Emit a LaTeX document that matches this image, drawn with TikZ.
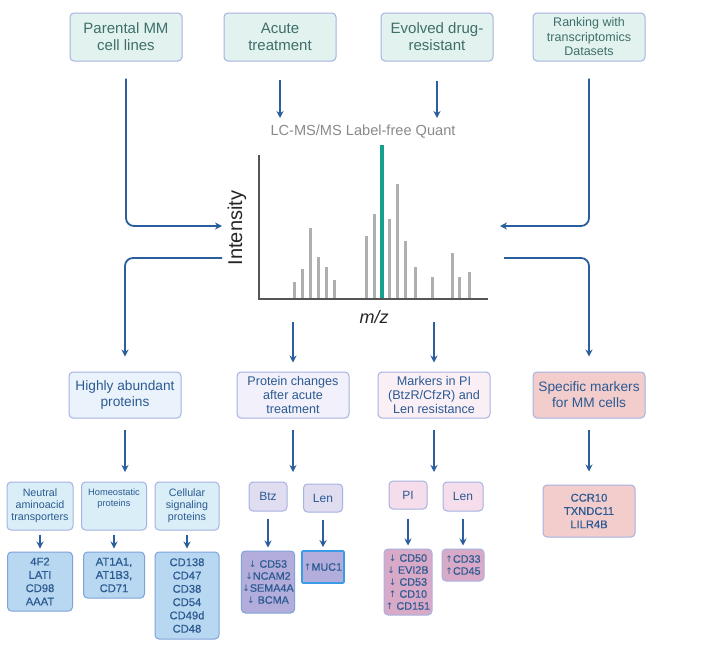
\documentclass[tikz,border=0pt]{standalone}
\usepackage{fontspec}
\setmainfont{Liberation Sans}
\newfontfamily\symf{DejaVu Sans}
\newfontfamily\medf[FakeBold=0.3]{Liberation Sans}
\usetikzlibrary{arrows.meta}
\definecolor{arrc}{HTML}{2A5E9C}
\definecolor{bordc}{HTML}{A5B2E2}
\definecolor{topfill}{HTML}{E2F2EE}
\definecolor{toptext}{HTML}{3F6E6A}
\definecolor{bluetext}{HTML}{2B5A92}
\definecolor{habfill}{HTML}{EAF3FB}
\definecolor{pcfill}{HTML}{F2F0FA}
\definecolor{mkfill}{HTML}{FBEFF6}
\definecolor{specfill}{HTML}{F3CCCC}
\definecolor{subfill}{HTML}{DAEEF7}
\definecolor{listfill}{HTML}{B8D7F0}
\definecolor{listbord}{HTML}{7FA3DA}
\definecolor{lavfill}{HTML}{E0DDF1}
\definecolor{lavlist}{HTML}{B3ADDB}
\definecolor{pinkfill}{HTML}{F6DDEC}
\definecolor{pinklist}{HTML}{D8AAC8}
\definecolor{brightbord}{HTML}{3C9BE6}
\definecolor{barc}{HTML}{AFAFAF}
\definecolor{tealc}{HTML}{14A08C}
\definecolor{axisc}{HTML}{555555}
\definecolor{titlec}{HTML}{8A8A8A}
\tikzset{
  box/.style={draw=bordc, line width=1pt, rounded corners=4pt, align=center, inner sep=1pt, text=bluetext},
  topbox/.style={box, fill=topfill, text=toptext, minimum width=112pt, minimum height=48pt},
  midbox/.style={box, minimum width=112pt, minimum height=46pt},
  subbox/.style={box, fill=subfill, minimum height=48pt, font=\fontsize{10.7}{12}\selectfont},
  listbox/.style={box, fill=listfill, draw=listbord, font=\medf\fontsize{11.2}{13.3}\selectfont},
  tagbox/.style={box, font=\fontsize{12}{14}\selectfont},
  mlist/.style={box, font=\medf\fontsize{10.8}{12}\selectfont},
  arr/.style={draw=arrc, line width=1.8pt, -{Stealth[length=7pt,width=7pt]}},
  bar/.style={draw=barc, line width=3pt},
}
\newcommand{\dn}{{\symf\small↓}}
\newcommand{\upa}{{\symf\small↑}}
\begin{document}
\begin{tikzpicture}[x=1pt,y=-1pt]
\useasboundingbox[fill=white] (0,0) rectangle (708,645);

% top boxes
\node[topbox, font=\fontsize{15}{17}\selectfont] (par) at (126,37) {Parental MM\\cell lines};
\node[topbox, font=\fontsize{15}{17}\selectfont] (acu) at (280,37) {Acute\\treatment};
\node[topbox, font=\fontsize{15}{17}\selectfont] (evo) at (437,37) {Evolved drug-\\resistant};
\node[topbox, font=\fontsize{12.5}{14.5}\selectfont] (rank) at (589,37) {Ranking with\\transcriptomics\\Datasets};

% chart
\node[text=titlec, font=\fontsize{14.6}{16}\selectfont] (title) at (363,132) {LC-MS/MS Label-free Quant};
\foreach \x/\t in {294/282,302/269,310/228,318/257,326/267,334/280,366/236,374/214,389/219,397/184,405/241,415/267,432/277,452/253,459/277,469/272}{
  \draw[bar] (\x,299) -- (\x,\t);
}
\draw[tealc, line width=3.5pt] (382,299) -- (382,145);
\draw[axisc, line width=1.2pt] (259,155) -- (259,299) -- (488,299);
\node[rotate=90, text=black!85, font=\fontsize{20}{22}\selectfont] (inty) at (237,228) {Intensity};
\node[text=black!85, font=\fontsize{18}{20}\selectfont\itshape] (mz) at (374,317) {m/z};

\coordinate (inL) at (222,226);
\coordinate (outL) at (222,258);
\coordinate (inR) at (500,226);
\coordinate (outR) at (504,258);
\coordinate (qA) at (280,118);
\coordinate (qE) at (437,118);
\coordinate (chM1) at (293,322);
\coordinate (chM2) at (434,322);

% middle boxes
\node[midbox, fill=habfill, font=\fontsize{13.7}{16.5}\selectfont] (hab) at (125,395) {Highly abundant\\proteins};
\node[midbox, fill=pcfill, font=\fontsize{12.6}{14}\selectfont] (pc) at (293,395) {Protein changes\\after acute\\treatment};
\node[midbox, fill=mkfill, font=\fontsize{12.6}{14}\selectfont] (mk) at (434,395) {Markers in PI\\(BtzR/CfzR) and\\Len resistance};
\node[midbox, fill=specfill, font=\fontsize{13.7}{16}\selectfont] (spec) at (589,395) {Specific markers\\for MM cells};

% connectors top
\draw[arr, rounded corners=8pt, shorten <=17pt] (par.south) |- (inL);
\draw[arr, rounded corners=8pt, shorten <=17pt] (rank.south) |- (inR);
\draw[arr, shorten <=18pt] (acu.south) -- (qA);
\draw[arr, shorten <=19pt] (evo.south) -- (qE);
\draw[arr, rounded corners=8pt, shorten >=15pt] (outL) -| (hab.north);
\draw[arr, rounded corners=8pt, shorten >=15pt] (outR) -| (spec.north);
\draw[arr, shorten >=9pt] (chM1) -- (pc.north);
\draw[arr, shorten >=9pt] (chM2) -- (mk.north);

% second-level arrows
\coordinate (dL) at (125,472);
\coordinate (dPC) at (293,472);
\coordinate (dMK) at (434,472);
\draw[arr, shorten <=11pt] (hab.south) -- (dL);
\draw[arr, shorten <=11pt] (pc.south) -- (dPC);
\draw[arr, shorten <=11pt] (mk.south) -- (dMK);

% bottom left
\node[subbox, minimum width=66pt] (neu) at (40,506) {Neutral\\aminoacid\\transporters};
\node[subbox, minimum width=65pt, font=\fontsize{9.3}{11}\selectfont] (hom) at (114,506) {Homeostatic\\proteins\\[6pt]};
\node[subbox, minimum width=64pt] (cel) at (187,506) {Cellular\\signaling\\proteins};
\node[listbox, minimum width=65pt, minimum height=59pt] (l1) at (40,581.5) {4F2\\LATI\\CD98\\AAAT};
\node[listbox, minimum width=61pt, minimum height=46pt] (l2) at (114,575) {AT1A1,\\AT1B3,\\CD71};
\node[listbox, minimum width=64pt, minimum height=87pt] (l3) at (187,595.5) {CD138\\CD47\\CD38\\CD54\\CD49d\\CD48};
\draw[arr, shorten <=4pt, shorten >=3pt] (neu.south) -- (l1.north);
\draw[arr, shorten <=4pt, shorten >=3pt] (hom.south) -- (l2.north);
\draw[arr, shorten <=4pt, shorten >=3pt] (cel.south) -- (l3.north);

% bottom middle (Btz / Len)
\node[tagbox, fill=lavfill, minimum width=38pt, minimum height=29pt] (btz) at (268,496.5) {Btz};
\node[tagbox, fill=lavfill, minimum width=39pt, minimum height=28pt] (len1) at (323,498) {Len};
\node[mlist, fill=lavlist, draw=listbord, minimum width=49pt, minimum height=62pt] (lb) at (268,582) {\dn\ CD53\\\dn NCAM2\\\dn SEMA4A\\\dn\ BCMA};
\node[mlist, fill=lavlist, draw=brightbord, line width=1.6pt, rounded corners=1pt, minimum width=42pt, minimum height=32pt] (muc) at (323,567) {\upa MUC1};
\draw[arr, shorten <=7pt, shorten >=3pt] (btz.south) -- (lb.north);
\draw[arr, shorten <=7pt, shorten >=3pt] (len1.south) -- (muc.north);

% PI / Len
\node[tagbox, fill=pinkfill, minimum width=38pt, minimum height=28pt] (pi) at (408,495) {PI};
\node[tagbox, fill=pinkfill, minimum width=40pt, minimum height=29pt] (len2) at (463,496.5) {Len};
\node[mlist, fill=pinklist, minimum width=48pt, minimum height=66pt] (lp) at (408,582) {\dn\ CD50\\\dn\ EVI2B\\\dn\ CD53\\\upa\ CD10\\\upa\ CD151};
\node[mlist, fill=pinklist, minimum width=42pt, minimum height=32pt] (lc) at (463,565) {\upa CD33\\\upa CD45};
\draw[arr, shorten <=9pt, shorten >=3pt] (pi.south) -- (lp.north);
\draw[arr, shorten <=7pt, shorten >=3pt] (len2.south) -- (lc.north);

% right
\node[box, fill=specfill, minimum width=92pt, minimum height=52pt, font=\medf\fontsize{11.2}{13.3}\selectfont] (ccr) at (589,511) {CCR10\\TXNDC11\\LILR4B};
\draw[arr, shorten <=11pt, shorten >=13pt] (spec.south) -- (ccr.north);
\end{tikzpicture}
\end{document}
